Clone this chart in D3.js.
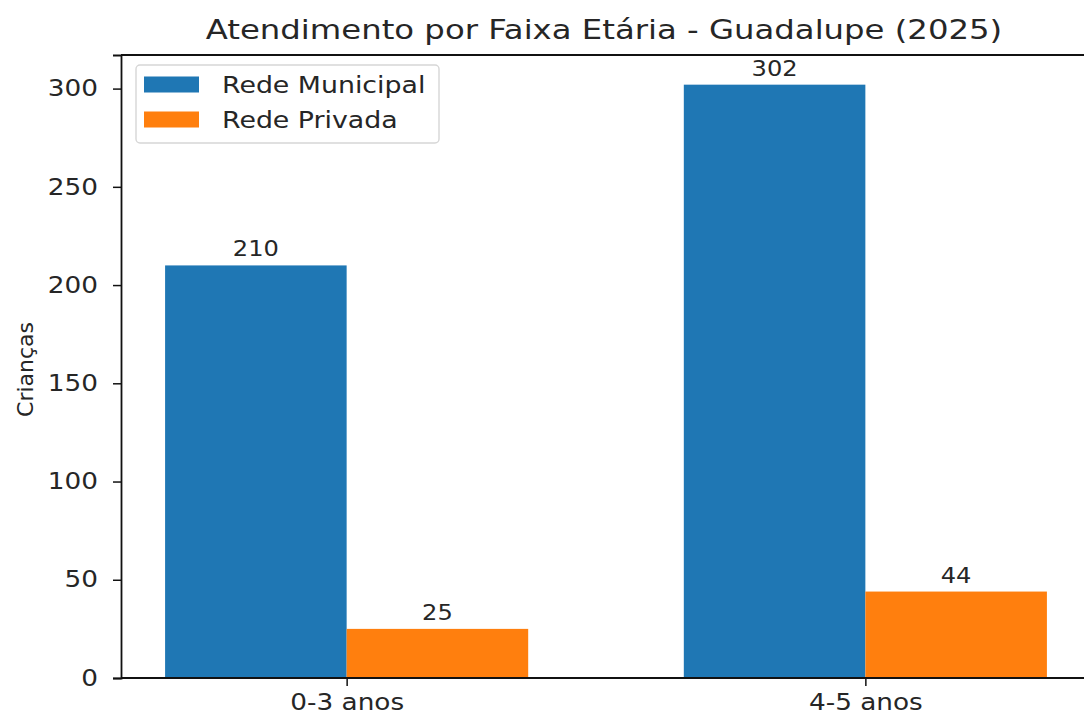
<!DOCTYPE html>
<html>
<head>
<meta charset="utf-8">
<script src="https://cdn.jsdelivr.net/npm/d3@7"></script>
<style>
  html, body { margin: 0; padding: 0; background: #fff; overflow: hidden; }
  svg { display: block; font-family: "DejaVu Sans", sans-serif; }
</style>
</head>
<body>
<div id="chart"></div>
<script>
// Chart data
const categories = ['0-3 anos', '4-5 anos'];
const seriesNames = ['Rede Municipal', 'Rede Privada'];
const municipal = [210, 302];
const privada = [25, 44];
const yTicks = [0, 50, 100, 150, 200, 250, 300];
const colors = ['#1f77b4', '#ff7f0e'];

const width = 1084, height = 715;
const barWidth = 0.35;
const textColor = '#262626';
const yMax = 302 * 1.05;

// the reference glyphs are a bit wider than they are tall, stretch text around its anchor
function hstretch(sel, sx) {
    sel.each(function() {
        const t = d3.select(this);
        const x0 = +t.attr('x') || 0;
        t.attr('x', x0 / sx).attr('transform', `scale(${sx},1)`);
    });
}

const svg = d3.select('#chart').append('svg')
    .attr('width', width)
    .attr('height', height);

const x = d3.scaleLinear().domain([-0.435, 1.435]).range([121, 1091]);
const y = d3.scaleLinear().domain([0, yMax]).range([678, 55]);

const series = [municipal, privada];
const bars = [];
series.forEach((vals, s) => vals.forEach((v, i) => {
    bars.push({ s, i, v, cx: i + (s === 0 ? -barWidth / 2 : barWidth / 2) });
}));

// Bars
svg.append('g').selectAll('rect').data(bars).enter().append('rect')
    .attr('x', d => x(d.cx - barWidth / 2))
    .attr('width', d => x(d.cx + barWidth / 2) - x(d.cx - barWidth / 2))
    .attr('y', d => y(d.v))
    .attr('height', d => y(0) - y(d.v))
    .attr('fill', d => colors[d.s]);

// Value labels
svg.append('g').selectAll('text').data(bars).enter().append('text')
    .attr('x', d => x(d.cx))
    .attr('y', d => y(d.v) - 9)
    .attr('text-anchor', 'middle')
    .attr('font-size', 21)
    .attr('fill', textColor)
    .text(d => d.v)
    .call(hstretch, 1.15);

// Axes
const yAxis = svg.append('g')
    .attr('transform', `translate(${x(-0.435)},0)`)
    .call(d3.axisLeft(y).tickValues(yTicks).tickSize(8).tickPadding(15));
const xAxis = svg.append('g')
    .attr('transform', `translate(0,${y(0)})`)
    .call(d3.axisBottom(x).tickValues([0, 1]).tickFormat(i => categories[i]).tickSize(8).tickPadding(8));

[yAxis, xAxis].forEach(g => {
    g.selectAll('path').attr('stroke', '#111').attr('stroke-width', 1.8);
    g.selectAll('line').attr('stroke', '#111').attr('stroke-width', 1.5);
    g.selectAll('text').attr('font-size', 22.5).attr('fill', textColor)
        .attr('font-family', '"DejaVu Sans", sans-serif')
        .call(hstretch, 1.17);
});
xAxis.select('.domain').attr('d', `M${x(-0.435)},0H${x(1.435)}`);

// Top and right spines
svg.append('line')
    .attr('x1', x(-0.435)).attr('x2', x(1.435))
    .attr('y1', y(yMax)).attr('y2', y(yMax))
    .attr('stroke', '#111').attr('stroke-width', 1.8);
svg.append('line')
    .attr('x1', x(1.435)).attr('x2', x(1.435))
    .attr('y1', y(0)).attr('y2', y(yMax))
    .attr('stroke', '#111').attr('stroke-width', 1.8);

// Title and y label
svg.append('text')
    .attr('x', (x(-0.435) + x(1.435)) / 2 - 2)
    .attr('y', 39)
    .attr('text-anchor', 'middle')
    .attr('font-size', 26.5)
    .attr('fill', textColor)
    .text('Atendimento por Faixa Etária - Guadalupe (2025)')
    .call(hstretch, 1.22);

svg.append('text')
    .attr('transform', `translate(33,${(y(0) + y(yMax)) / 2 + 3}) rotate(-90)`)
    .attr('text-anchor', 'middle')
    .attr('font-size', 22)
    .attr('fill', textColor)
    .text('Crianças');

// Legend
const legend = svg.append('g').attr('transform', 'translate(136,65)');
legend.append('rect')
    .attr('width', 303).attr('height', 78).attr('rx', 4)
    .attr('fill', '#fff').attr('fill-opacity', 0.8)
    .attr('stroke', '#d6d6d6').attr('stroke-width', 1.4);
seriesNames.forEach((name, k) => {
    legend.append('rect')
        .attr('x', 8).attr('y', 11.5 + k * 35)
        .attr('width', 55).attr('height', 16)
        .attr('fill', colors[k]);
    legend.append('text')
        .attr('x', 86).attr('y', 28 + k * 35)
        .attr('font-size', 23.5)
        .attr('fill', textColor)
        .text(name)
        .call(hstretch, 1.14);
});
</script>
</body>
</html>
